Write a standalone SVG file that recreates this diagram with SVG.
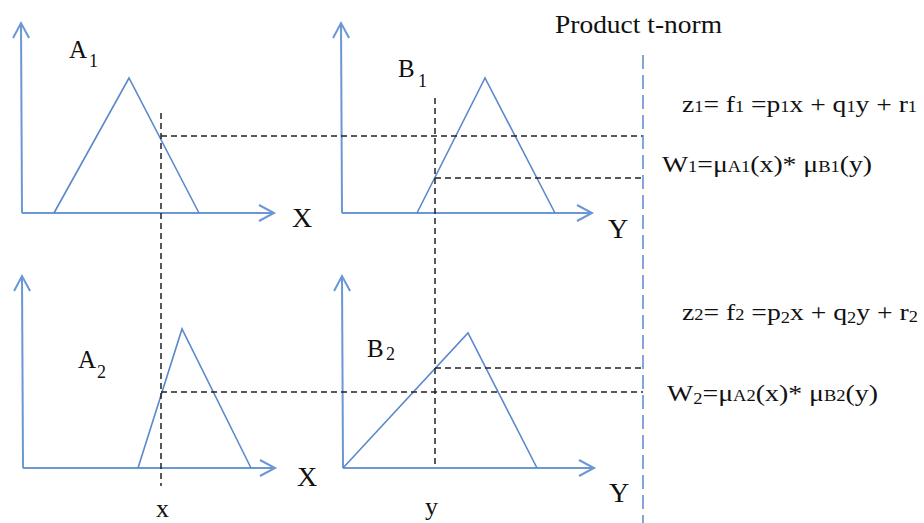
<svg xmlns="http://www.w3.org/2000/svg" width="924" height="523" viewBox="0 0 924 523">
<style>
.axis{fill:none;stroke:#6b97d4;stroke-width:2}
.mf{fill:none;stroke:#5b89cc;stroke-width:1.6;stroke-linejoin:miter}
.dash{fill:none;stroke:#222;stroke-width:1.5;stroke-dasharray:6 4}
.tnorm{fill:none;stroke:#5b89cc;stroke-width:1.5;stroke-dasharray:14 6}
text{font-family:"Liberation Serif","Times New Roman",serif;fill:#111}
.lab{font-size:25px}
.sub{font-size:18px}
.ax{font-size:28px}
.var{font-size:26px}
.eq{font-size:24px}
.es{font-size:16px}
</style>
<defs>
<marker id="arr" markerUnits="userSpaceOnUse" viewBox="-17 -10 19 20" markerWidth="19" markerHeight="20" refX="0" refY="0" orient="auto" overflow="visible">
<path d="M-15,-8 L0,0 L-15,8" fill="none" stroke="#6b97d4" stroke-width="2"/>
</marker>
</defs>
<text x="555" y="33" font-size="26" textLength="167" lengthAdjust="spacingAndGlyphs">Product t-norm</text>
<g id="panel-a1">
<path class="axis" d="M22,213 L21,23" marker-end="url(#arr)"/>
<path class="axis" d="M22,213 L274,213" marker-end="url(#arr)"/>
<path class="mf" d="M54,213 L129,78 L199,213"/>
<text class="lab" x="69" y="58">A</text><text class="sub" x="89" y="67">1</text>
<text class="ax" x="292" y="227">X</text>
</g>
<g id="panel-b1">
<path class="axis" d="M342,213 L341,23" marker-end="url(#arr)"/>
<path class="axis" d="M342,213 L592,213" marker-end="url(#arr)"/>
<path class="mf" d="M417,213 L485,78 L555,213"/>
<text class="lab" x="398" y="77">B</text><text class="sub" x="418" y="87">1</text>
<text class="ax" x="608" y="238">Y</text>
</g>
<g id="panel-a2">
<path class="axis" d="M23,468 L22,276" marker-end="url(#arr)"/>
<path class="axis" d="M23,468 L275,468" marker-end="url(#arr)"/>
<path class="mf" d="M138,468 L182,329 L251,468"/>
<text class="lab" x="78" y="368">A</text><text class="sub" x="97" y="378">2</text>
<text class="ax" x="297" y="486">X</text>
<text class="var" x="156" y="517">x</text>
</g>
<g id="panel-b2">
<path class="axis" d="M343,468 L342,276" marker-end="url(#arr)"/>
<path class="axis" d="M343,468 L594,468" marker-end="url(#arr)"/>
<path class="mf" d="M343,468 L468,333 L537,468"/>
<text class="lab" x="367" y="357">B</text><text class="sub" x="386" y="360">2</text>
<text class="ax" x="609" y="502">Y</text>
<text class="var" x="425" y="515">y</text>
</g>
<g id="rule1">
<text class="eq" x="682" y="112" textLength="235" lengthAdjust="spacingAndGlyphs">z<tspan class="es">1</tspan>= f<tspan class="es">1</tspan> =p<tspan class="es">1</tspan>x + q<tspan class="es">1</tspan>y + r<tspan class="es">1</tspan></text>
<text class="eq" x="662" y="172" textLength="210" lengthAdjust="spacingAndGlyphs">W<tspan class="es">1</tspan>=μ<tspan class="es">A1</tspan>(x)* μ<tspan class="es">B1</tspan>(y)</text>
</g>
<g id="rule2">
<text class="eq" x="682" y="320" textLength="236" lengthAdjust="spacingAndGlyphs">z<tspan class="es">2</tspan>= f<tspan class="es">2</tspan> =p<tspan class="es" dy="3">2</tspan><tspan dy="-3">x + q</tspan><tspan class="es" dy="3">2</tspan><tspan dy="-3">y + r</tspan><tspan class="es" dy="2">2</tspan></text>
<text class="eq" x="667" y="401" textLength="211" lengthAdjust="spacingAndGlyphs">W<tspan class="es" dy="3">2</tspan><tspan dy="-3">=μ</tspan><tspan class="es">A2</tspan>(x)* μ<tspan class="es">B2</tspan>(y)</text>
</g>
<g id="connectors">
<path class="dash" d="M161,113 L161,486"/>
<path class="dash" d="M161,136 L643,136"/>
<path class="dash" d="M435,98 L435,468"/>
<path class="dash" d="M435,178 L643,178"/>
<path class="dash" d="M435,368 L643,368"/>
<path class="dash" d="M161,392 L643,392"/>
<path class="tnorm" d="M643,55 L643,523"/>
</g>
</svg>
